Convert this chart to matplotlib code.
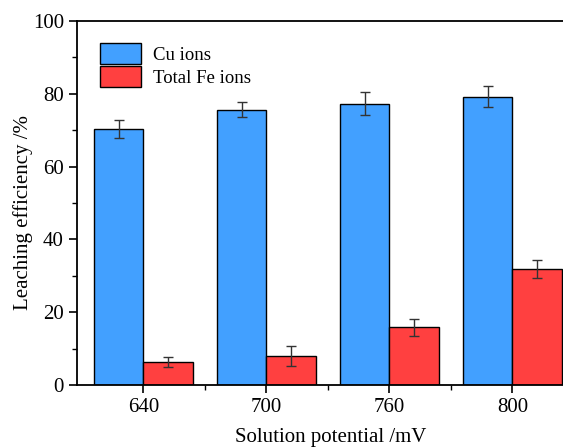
import matplotlib
matplotlib.use("Agg")
import matplotlib.pyplot as plt
import numpy as np
from matplotlib.ticker import MultipleLocator

plt.rcParams["font.family"] = ["Liberation Serif", "DejaVu Serif"]
plt.rcParams["font.size"] = 14

potentials = ["640", "700", "760", "800"]
cu_ions = [70.3, 75.6, 77.3, 79.2]
cu_err = [2.5, 2.1, 3.1, 2.9]
fe_ions = [6.4, 7.9, 15.8, 31.9]
fe_err = [1.4, 2.7, 2.4, 2.5]

fig = plt.figure(figsize=(5.63, 4.47), dpi=100)
# right spine lies just outside the picture, as in the reference
ax = fig.add_axes([77 / 563, 62 / 447, 508 / 563, 364 / 447])

x = np.arange(len(potentials))
w = 0.4
err_kw = dict(ecolor="#333333", elinewidth=1, capsize=3.5, capthick=1)

ax.bar(x - w / 2, cu_ions, w, yerr=cu_err, color="#42a0ff", edgecolor="black",
       linewidth=1, label="Cu ions", error_kw=err_kw)
ax.bar(x + w / 2, fe_ions, w, yerr=fe_err, color="#ff4040", edgecolor="black",
       linewidth=1, label="Total Fe ions", error_kw=err_kw)

ax.set_xlim(-0.54, 3.59)
ax.set_ylim(0, 100)
ax.set_xticks(x)
ax.set_xticklabels(potentials)
ax.set_xticks(x[:-1] + 0.5, minor=True)
ax.yaxis.set_major_locator(MultipleLocator(20))
ax.yaxis.set_minor_locator(MultipleLocator(10))
ax.tick_params(which="major", direction="out", length=6, width=1.2, labelsize=15)
ax.tick_params(which="minor", direction="out", length=3.5, width=1)
for s in ax.spines.values():
    s.set_linewidth(1.3)

ax.set_xlabel("Solution potential /mV", fontsize=15, labelpad=8)
ax.set_ylabel("Leaching efficiency /%", fontsize=15)
ax.yaxis.set_label_coords(-0.087, 0.475)

ax.legend(loc="upper left", bbox_to_anchor=(0.005, 0.995), frameon=False,
          handlelength=2.2, handleheight=1.3, labelspacing=0.12,
          handletextpad=0.6, borderaxespad=0.7, borderpad=0.4, fontsize=13.5)

fig.savefig("out.png", dpi=100)
